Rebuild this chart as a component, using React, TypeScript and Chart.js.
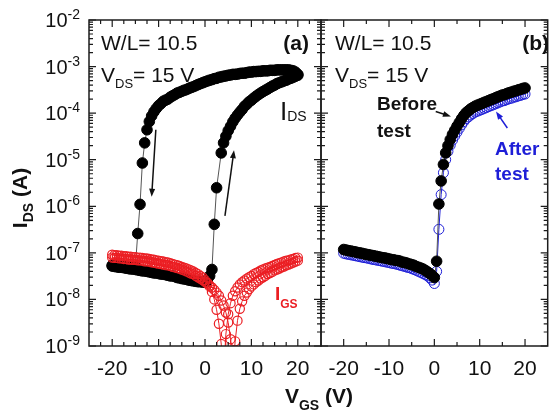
import React, { useEffect, useRef } from "react";
import { Chart, registerables } from "chart.js";

Chart.register(...registerables);

// ---- Data (V_GS sweep, volts) ----
const VGS = [
  -20, -19.5, -19, -18.5, -18, -17.5, -17, -16.5, -16, -15.5,
  -15, -14.5, -14, -13.5, -13, -12.5, -12, -11.5, -11, -10.5,
  -10, -9.5, -9, -8.5, -8, -7.5, -7, -6.5, -6, -5.5,
  -5, -4.5, -4, -3.5, -3, -2.5, -2, -1.5, -1, -0.5,
  0, 0.5, 1, 1.5, 2, 2.5, 3, 3.5, 4, 4.5,
  5, 5.5, 6, 6.5, 7, 7.5, 8, 8.5, 9, 9.5,
  10, 10.5, 11, 11.5, 12, 12.5, 13, 13.5, 14, 14.5,
  15, 15.5, 16, 16.5, 17, 17.5, 18, 18.5, 19, 19.5,
  20,
];

// Panel (a): I_DS forward sweep (-20 -> 20 V)
const IDS_A_FWD = [
  5.2e-8, 5.1e-8, 5.0e-8, 4.9e-8, 4.9e-8, 4.8e-8, 4.7e-8, 4.6e-8, 4.5e-8, 4.5e-8,
  4.4e-8, 4.3e-8, 4.2e-8, 4.1e-8, 4.1e-8, 4.0e-8, 3.9e-8, 3.8e-8, 3.7e-8, 3.7e-8,
  3.6e-8, 3.5e-8, 3.5e-8, 3.4e-8, 3.3e-8, 3.2e-8, 3.2e-8, 3.1e-8, 2.95e-8, 2.9e-8,
  2.8e-8, 2.75e-8, 2.7e-8, 2.6e-8, 2.55e-8, 2.5e-8, 2.45e-8, 2.4e-8, 2.4e-8, 2.35e-8,
  2.35e-8, 2.5e-8, 3.2e-8, 4.4e-8, 4.1e-7, 2.5e-6, null, 1.4e-5, 2.3e-5, 3.2e-5,
  4.2e-5, 5.2e-5, 6.5e-5, 7.8e-5, 9.1e-5, 1.05e-4, 1.2e-4, 1.4e-4, 1.55e-4, 1.75e-4,
  1.9e-4, 2.1e-4, 2.3e-4, 2.5e-4, 2.7e-4, 2.9e-4, 3.1e-4, 3.3e-4, 3.55e-4, 3.8e-4,
  4.0e-4, 4.3e-4, 4.5e-4, 4.7e-4, 4.9e-4, 5.1e-4, 5.4e-4, 5.6e-4, 5.9e-4, 6.2e-4,
  6.5e-4,
];

// Panel (a): I_DS reverse sweep (20 -> -20 V), listed by ascending V_GS
const IDS_A_REV = [
  5.4e-8, 5.4e-8, 5.2e-8, 5.2e-8, 5.1e-8, 5.1e-8, 5.0e-8, 5.0e-8, 4.9e-8, 4.9e-8,
  5.0e-8, 2.6e-7, 1.1e-6, 8.5e-6, 2.3e-5, 4.4e-5, 6.6e-5, 8.7e-5, 1.07e-4, 1.26e-4,
  1.45e-4, 1.6e-4, 1.8e-4, 1.9e-4, 2.0e-4, 2.2e-4, 2.35e-4, 2.5e-4, 2.7e-4, 2.8e-4,
  2.95e-4, 3.1e-4, 3.2e-4, 3.4e-4, 3.55e-4, 3.7e-4, 3.9e-4, 4.1e-4, 4.3e-4, 4.5e-4,
  4.7e-4, 4.9e-4, 5.1e-4, 5.25e-4, 5.5e-4, 5.6e-4, 5.9e-4, 6.0e-4, 6.2e-4, 6.3e-4,
  6.5e-4, 6.6e-4, 6.8e-4, 6.8e-4, 6.9e-4, 7.1e-4, 7.2e-4, 7.2e-4, 7.4e-4, 7.6e-4,
  7.6e-4, 7.8e-4, 7.8e-4, 7.9e-4, 7.9e-4, 8.1e-4, 8.1e-4, 8.1e-4, 8.3e-4, 8.3e-4,
  8.3e-4, 8.5e-4, 8.5e-4, 8.5e-4, 8.5e-4, 8.5e-4, 8.5e-4, 8.3e-4, 8.1e-4, 7.6e-4,
  6.8e-4,
];

// Panel (a): I_GS forward sweep
const IGS_A_FWD = [
  9.1e-8, 8.9e-8, 8.9e-8, 8.7e-8, 8.7e-8, 8.5e-8, 8.5e-8, 8.3e-8, 8.3e-8, 8.1e-8,
  8.1e-8, 7.9e-8, 7.9e-8, 7.8e-8, 7.6e-8, 7.6e-8, 7.4e-8, 7.2e-8, 7.1e-8, 6.9e-8,
  6.8e-8, 6.6e-8, 6.5e-8, 6.3e-8, 6.2e-8, 6.0e-8, 5.75e-8, 5.6e-8, 5.4e-8, 5.25e-8,
  5.0e-8, 4.8e-8, 4.6e-8, 4.4e-8, 4.2e-8, 4.0e-8, 3.7e-8, 3.5e-8, 3.2e-8, 2.95e-8,
  2.6e-8, 2.3e-8, 1.9e-8, 1.45e-8, 1.0e-8, 6.0e-9, 3.0e-9, 1.1e-9, 2.5e-10, 1.8e-9,
  4.8e-9, 8.3e-9, 1.2e-8, 1.5e-8, 1.8e-8, 2.1e-8, 2.35e-8, 2.55e-8, 2.8e-8, 3.0e-8,
  3.2e-8, 3.5e-8, 3.7e-8, 3.9e-8, 4.2e-8, 4.4e-8, 4.6e-8, 4.8e-8, 5.0e-8, 5.25e-8,
  5.5e-8, 5.75e-8, 6.0e-8, 6.2e-8, 6.5e-8, 6.8e-8, 6.9e-8, 7.2e-8, 7.4e-8, 7.8e-8,
  7.9e-8,
];

// Panel (a): I_GS reverse sweep, listed by ascending V_GS
const IGS_A_REV = [
  7.9e-8, 7.8e-8, 7.8e-8, 7.6e-8, 7.6e-8, 7.4e-8, 7.4e-8, 7.2e-8, 7.2e-8, 7.1e-8,
  7.1e-8, 6.9e-8, 6.9e-8, 6.8e-8, 6.6e-8, 6.6e-8, 6.5e-8, 6.3e-8, 6.2e-8, 6.0e-8,
  5.9e-8, 5.75e-8, 5.6e-8, 5.5e-8, 5.4e-8, 5.25e-8, 5.0e-8, 4.9e-8, 4.7e-8, 4.6e-8,
  4.4e-8, 4.2e-8, 4.0e-8, 3.8e-8, 3.6e-8, 3.5e-8, 3.2e-8, 3.0e-8, 2.8e-8, 2.6e-8,
  2.4e-8, 2.2e-8, 2.0e-8, 1.8e-8, 1.6e-8, 1.4e-8, 1.2e-8, 9.5e-9, 7.4e-9, 5.25e-9,
  3.2e-9, 1.4e-9, 3.2e-10, 1.26e-9, 3.5e-9, 6.3e-9, 9.1e-9, 1.2e-8, 1.4e-8, 1.66e-8,
  1.9e-8, 2.1e-8, 2.35e-8, 2.55e-8, 2.8e-8, 3.0e-8, 3.2e-8, 3.5e-8, 3.7e-8, 3.9e-8,
  4.2e-8, 4.4e-8, 4.6e-8, 4.9e-8, 5.1e-8, 5.4e-8, 5.6e-8, 5.9e-8, 6.2e-8, 6.5e-8,
  6.8e-8,
];

// Panel (b): I_DS before test
const IDS_B_BEFORE = [
  1.18e-7, 1.15e-7, 1.12e-7, 1.1e-7, 1.07e-7, 1.05e-7, 1.02e-7, 1.0e-7, 9.8e-8, 9.5e-8,
  9.3e-8, 9.1e-8, 8.9e-8, 8.7e-8, 8.5e-8, 8.3e-8, 8.1e-8, 7.9e-8, 7.8e-8, 7.6e-8,
  7.4e-8, 7.2e-8, 7.1e-8, 6.9e-8, 6.8e-8, 6.6e-8, 6.3e-8, 6.2e-8, 6.0e-8, 5.75e-8,
  5.6e-8, 5.4e-8, 5.1e-8, 4.9e-8, 4.7e-8, 4.5e-8, 4.2e-8, 3.9e-8, 3.6e-8, 3.3e-8,
  2.95e-8, 6.6e-8, 1.12e-6, 3.5e-6, 7.9e-6, 1.4e-5, 2.0e-5, 2.7e-5, 3.5e-5, 4.3e-5,
  5.25e-5, 6.3e-5, 7.6e-5, 8.9e-5, 1.02e-4, 1.12e-4, 1.23e-4, 1.32e-4, 1.41e-4, 1.48e-4,
  1.55e-4, 1.62e-4, 1.7e-4, 1.78e-4, 1.86e-4, 1.95e-4, 2.04e-4, 2.14e-4, 2.24e-4, 2.34e-4,
  2.45e-4, 2.51e-4, 2.63e-4, 2.75e-4, 2.82e-4, 2.95e-4, 3.02e-4, 3.16e-4, 3.24e-4, 3.39e-4,
  3.47e-4,
];

// Panel (b): I_DS after test
const IDS_B_AFTER = [
  9.8e-8, 9.5e-8, 9.3e-8, 9.1e-8, 8.9e-8, 8.7e-8, 8.5e-8, 8.3e-8, 8.1e-8, 7.9e-8,
  7.8e-8, 7.6e-8, 7.4e-8, 7.2e-8, 7.1e-8, 6.9e-8, 6.8e-8, 6.6e-8, 6.5e-8, 6.3e-8,
  6.2e-8, 6.0e-8, 5.9e-8, 5.75e-8, 5.6e-8, 5.4e-8, 5.25e-8, 5.1e-8, 4.9e-8, 4.8e-8,
  4.6e-8, 4.4e-8, 4.2e-8, 4.0e-8, 3.8e-8, 3.6e-8, 3.4e-8, 3.2e-8, 2.9e-8, 2.6e-8,
  2.2e-8, 4.0e-8, 3.2e-7, 1.78e-6, 5.25e-6, 1.0e-5, 1.51e-5, 2.04e-5, 2.63e-5, 3.24e-5,
  3.9e-5, 4.7e-5, 5.6e-5, 6.6e-5, 7.6e-5, 8.3e-5, 9.1e-5, 9.8e-5, 1.05e-4, 1.1e-4,
  1.15e-4, 1.2e-4, 1.26e-4, 1.32e-4, 1.38e-4, 1.45e-4, 1.51e-4, 1.58e-4, 1.66e-4, 1.74e-4,
  1.82e-4, 1.86e-4, 1.95e-4, 2.04e-4, 2.09e-4, 2.19e-4, 2.24e-4, 2.34e-4, 2.4e-4, 2.51e-4,
  2.57e-4,
];

// Tick labels
const X_TICKS = [-20, -10, 0, 10, 20];
const Y_TICK_EXPONENTS = [-9, -8, -7, -6, -5, -4, -3, -2];

// Axis ranges
const X_MIN = -25;
const X_MAX = 25;
const Y_MIN = 1e-9;
const Y_MAX = 1e-2;

const FONT = "'Liberation Sans', Arial, sans-serif";
const RED = "rgb(235,30,35)";
const BLUE = "rgb(30,30,215)";

type Part = { t: string; size: number; bold?: boolean; dy?: number };

function fontOf(p: Part) {
  return `${p.bold ? "bold " : ""}${p.size}px ${FONT}`;
}

function drawParts(
  ctx: CanvasRenderingContext2D,
  parts: Part[],
  x: number,
  y: number,
  color: string,
  align: "left" | "center" | "right" = "left"
) {
  ctx.save();
  ctx.fillStyle = color;
  ctx.textBaseline = "alphabetic";
  ctx.textAlign = "left";
  const widths = parts.map((p) => {
    ctx.font = fontOf(p);
    return ctx.measureText(p.t).width;
  });
  const total = widths.reduce((a, b) => a + b, 0);
  let cx = align === "center" ? x - total / 2 : align === "right" ? x - total : x;
  parts.forEach((p, i) => {
    ctx.font = fontOf(p);
    ctx.fillText(p.t, cx, y + (p.dy || 0));
    cx += widths[i];
  });
  ctx.restore();
}

function drawArrow(
  ctx: CanvasRenderingContext2D,
  x1: number,
  y1: number,
  x2: number,
  y2: number,
  color: string
) {
  const ang = Math.atan2(y2 - y1, x2 - x1);
  const hl = 8;
  const hw = 3;
  ctx.save();
  ctx.strokeStyle = color;
  ctx.fillStyle = color;
  ctx.lineWidth = 1.5;
  ctx.beginPath();
  ctx.moveTo(x1, y1);
  ctx.lineTo(x2 - hl * 0.8 * Math.cos(ang), y2 - hl * 0.8 * Math.sin(ang));
  ctx.stroke();
  ctx.beginPath();
  ctx.moveTo(x2, y2);
  ctx.lineTo(x2 - hl * Math.cos(ang) + hw * Math.sin(ang), y2 - hl * Math.sin(ang) - hw * Math.cos(ang));
  ctx.lineTo(x2 - hl * Math.cos(ang) - hw * Math.sin(ang), y2 - hl * Math.sin(ang) + hw * Math.cos(ang));
  ctx.closePath();
  ctx.fill();
  ctx.restore();
}

type PanelCfg = {
  minorStep: number;
  yLabels: boolean;
  extra: (ctx: CanvasRenderingContext2D, chart: any) => void;
};

function framePlugin(cfg: PanelCfg) {
  return {
    id: "panelFrame",
    afterDraw(chart: any) {
      const ctx: CanvasRenderingContext2D = chart.ctx;
      const { left, right, top, bottom } = chart.chartArea;
      const xs = chart.scales.x;
      const ys = chart.scales.y;
      ctx.save();
      ctx.strokeStyle = "#1c1c1c";
      ctx.lineWidth = 1.5;
      ctx.strokeRect(left, top, right - left, bottom - top);

      ctx.lineWidth = 1.2;
      ctx.beginPath();
      for (let v = X_MIN + cfg.minorStep; v < X_MAX; v += cfg.minorStep) {
        const major = Math.abs(v % 10) < 1e-9;
        const len = major ? 7 : 4;
        const px = xs.getPixelForValue(v);
        ctx.moveTo(px, bottom);
        ctx.lineTo(px, bottom - len);
        ctx.moveTo(px, top);
        ctx.lineTo(px, top + len);
      }
      for (const k of Y_TICK_EXPONENTS) {
        for (let m = 1; m <= 9; m++) {
          if (k === -2 && m > 1) break;
          const val = m * Math.pow(10, k);
          const py = ys.getPixelForValue(val);
          const len = m === 1 ? 7 : 4;
          ctx.moveTo(left, py);
          ctx.lineTo(left + len, py);
          ctx.moveTo(right, py);
          ctx.lineTo(right - len, py);
        }
      }
      ctx.stroke();
      ctx.restore();

      // x tick labels
      ctx.save();
      ctx.fillStyle = "#111";
      ctx.font = `21px ${FONT}`;
      ctx.textAlign = "center";
      ctx.textBaseline = "alphabetic";
      for (const v of X_TICKS) {
        ctx.fillText(String(v), xs.getPixelForValue(v), bottom + 29);
      }
      ctx.restore();

      // y tick labels 10^k
      if (cfg.yLabels) {
        for (const k of Y_TICK_EXPONENTS) {
          const py = ys.getPixelForValue(Math.pow(10, k));
          drawParts(
            ctx,
            [
              { t: "10", size: 20 },
              { t: String(k), size: 14, dy: -8 },
            ],
            left - 9,
            py + 7,
            "#111",
            "right"
          );
        }
      }
      cfg.extra(ctx, chart);
    },
  };
}

function series(vals: (number | null)[], opts: any) {
  return {
    data: VGS.map((x, i) => ({ x, y: vals[i] })),
    showLine: true,
    spanGaps: true,
    clip: 0,
    tension: 0,
    borderWidth: 1,
    pointBorderWidth: 1,
    ...opts,
  };
}

function makeChart(
  canvas: HTMLCanvasElement,
  datasets: any[],
  padding: any,
  yWidth: number,
  plugin: any
) {
  return new Chart(canvas, {
    type: "line",
    data: { datasets },
    options: {
      animation: false,
      responsive: false,
      devicePixelRatio: 1,
      events: [],
      layout: { padding },
      plugins: { legend: { display: false }, tooltip: { enabled: false } },
      scales: {
        x: {
          type: "linear",
          min: X_MIN,
          max: X_MAX,
          grid: { display: false },
          border: { display: false },
          ticks: { display: false },
          afterFit: (s: any) => {
            s.height = 70;
          },
        },
        y: {
          type: "logarithmic",
          min: Y_MIN,
          max: Y_MAX,
          grid: { display: false },
          border: { display: false },
          ticks: { display: false },
          afterFit: (s: any) => {
            s.width = yWidth;
          },
        },
      },
    },
    plugins: [plugin],
  } as any);
}

export default function App() {
  const refA = useRef<HTMLCanvasElement | null>(null);
  const refB = useRef<HTMLCanvasElement | null>(null);

  useEffect(() => {
    if (!refA.current || !refB.current) return;

    const blackDot = {
      borderColor: "#555",
      pointBackgroundColor: "#000",
      pointBorderColor: "#000",
      pointRadius: 5.3,
    };
    const redRing = {
      borderColor: RED,
      pointBorderColor: RED,
      pointBackgroundColor: "rgba(0,0,0,0)",
      pointRadius: 4.6,
      pointBorderWidth: 1.2,
    };

    const chartA = makeChart(
      refA.current,
      [
        series(IGS_A_FWD, redRing),
        series(IGS_A_REV, redRing),
        series(IDS_A_FWD, blackDot),
        series(IDS_A_REV, blackDot),
      ],
      { left: 0, top: 20, right: 233, bottom: 0 },
      89,
      framePlugin({
        minorStep: 2.5,
        yLabels: true,
        extra: (ctx, chart) => {
          const xs = chart.scales.x;
          const ys = chart.scales.y;
          // annotations
          drawParts(ctx, [{ t: "W/L= 10.5", size: 21 }], 101, 50, "#111");
          drawParts(
            ctx,
            [
              { t: "V", size: 21 },
              { t: "DS", size: 13, dy: 6 },
              { t: "= 15 V", size: 21 },
            ],
            101,
            82,
            "#111"
          );
          drawParts(ctx, [{ t: "(a)", size: 21, bold: true }], 309, 50, "#111", "right");
          drawParts(
            ctx,
            [
              { t: "I", size: 26 },
              { t: "DS", size: 14, dy: 1 },
            ],
            280,
            120,
            "#111"
          );
          drawParts(
            ctx,
            [
              { t: "I", size: 19, bold: true },
              { t: "GS", size: 12, bold: true, dy: 8 },
            ],
            275,
            300,
            RED
          );
          // sweep arrows
          drawArrow(
            ctx,
            xs.getPixelForValue(-10.6),
            ys.getPixelForValue(4.4e-5),
            xs.getPixelForValue(-11.5),
            ys.getPixelForValue(1.6e-6),
            "#111"
          );
          drawArrow(
            ctx,
            xs.getPixelForValue(4.3),
            ys.getPixelForValue(6.2e-7),
            xs.getPixelForValue(6.25),
            ys.getPixelForValue(1.6e-5),
            "#111"
          );
          // axis titles (shared)
          ctx.save();
          ctx.translate(27, 198);
          ctx.rotate(-Math.PI / 2);
          drawParts(
            ctx,
            [
              { t: "I", size: 21, bold: true },
              { t: "DS", size: 14, bold: true, dy: 6 },
              { t: " (A)", size: 21, bold: true },
            ],
            0,
            0,
            "#111",
            "center"
          );
          ctx.restore();
          drawParts(
            ctx,
            [
              { t: "V", size: 21, bold: true },
              { t: "GS", size: 14, bold: true, dy: 7 },
              { t: " (V)", size: 21, bold: true },
            ],
            319,
            403,
            "#111",
            "center"
          );
        },
      })
    );

    const chartB = makeChart(
      refB.current,
      [
        series(IDS_B_BEFORE, blackDot),
        series(IDS_B_AFTER, {
          borderColor: BLUE,
          pointBorderColor: BLUE,
          pointBackgroundColor: "rgba(0,0,0,0)",
          pointRadius: 5,
        }),
      ],
      { left: 321, top: 20, right: 1, bottom: 0 },
      0,
      framePlugin({
        minorStep: 5,
        yLabels: false,
        extra: (ctx, chart) => {
          const xs = chart.scales.x;
          const ys = chart.scales.y;
          drawParts(ctx, [{ t: "W/L= 10.5", size: 21 }], 335, 50, "#111");
          drawParts(
            ctx,
            [
              { t: "V", size: 21 },
              { t: "DS", size: 13, dy: 6 },
              { t: "= 15 V", size: 21 },
            ],
            335,
            82,
            "#111"
          );
          drawParts(ctx, [{ t: "(b)", size: 21, bold: true }], 549, 50, "#111", "right");
          drawParts(ctx, [{ t: "Before", size: 19, bold: true }], 377, 110, "#111");
          drawParts(ctx, [{ t: "test", size: 19, bold: true }], 377, 137, "#111");
          drawParts(ctx, [{ t: "After", size: 19, bold: true }], 495, 155, BLUE);
          drawParts(ctx, [{ t: "test", size: 19, bold: true }], 495, 180, BLUE);
          drawArrow(
            ctx,
            xs.getPixelForValue(0.3),
            ys.getPixelForValue(1.08e-4),
            xs.getPixelForValue(3.66),
            ys.getPixelForValue(8.5e-5),
            "#111"
          );
          drawArrow(
            ctx,
            xs.getPixelForValue(16.1),
            ys.getPixelForValue(4.8e-5),
            xs.getPixelForValue(13.6),
            ys.getPixelForValue(1.08e-4),
            BLUE
          );
        },
      })
    );

    return () => {
      chartA.destroy();
      chartB.destroy();
    };
  }, []);

  const canvasStyle: React.CSSProperties = {
    position: "absolute",
    left: 0,
    top: 0,
    width: 554,
    height: 416,
  };

  return (
    <div
      style={{
        position: "absolute",
        left: 0,
        top: 0,
        width: 554,
        height: 416,
        background: "#fff",
        overflow: "hidden",
      }}
    >
      <canvas ref={refA} width={554} height={416} style={canvasStyle} />
      <canvas ref={refB} width={554} height={416} style={canvasStyle} />
    </div>
  );
}
